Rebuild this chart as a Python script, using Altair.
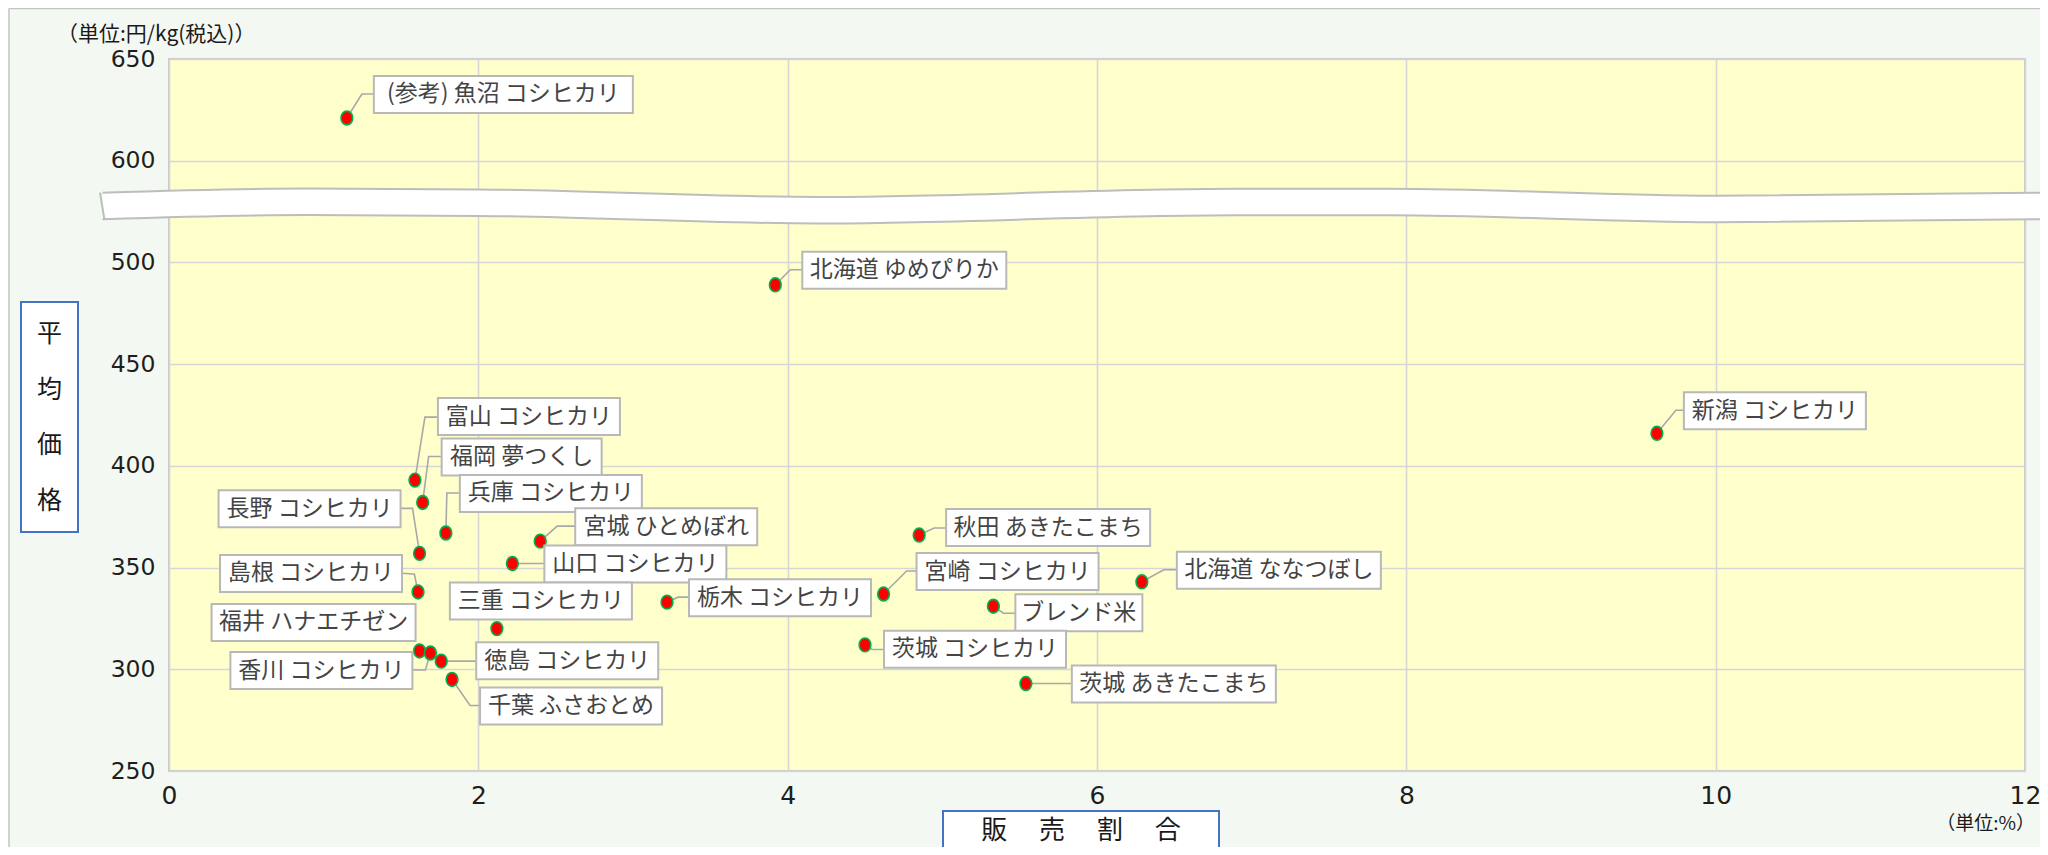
import altair as alt
import pandas as pd

# ---------------- data ----------------
NAMES = ["(参考) 魚沼 コシヒカリ", "北海道 ゆめぴりか", "新潟 コシヒカリ", "富山 コシヒカリ", "福岡 夢つくし",
         "兵庫 コシヒカリ", "長野 コシヒカリ", "宮城 ひとめぼれ", "山口 コシヒカリ", "島根 コシヒカリ",
         "三重 コシヒカリ", "栃木 コシヒカリ", "福井 ハナエチゼン", "香川 コシヒカリ", "徳島 コシヒカリ",
         "千葉 ふさおとめ", "秋田 あきたこまち", "宮崎 コシヒカリ", "北海道 ななつぼし", "ブレンド米",
         "茨城 コシヒカリ", "茨城 あきたこまち"]
SHARE = [1.15, 3.92, 9.62, 1.59, 1.64, 1.79, 1.62, 2.40, 2.22, 1.61, 2.12, 3.22,
         1.62, 1.69, 1.76, 1.83, 4.85, 4.62, 6.29, 5.33, 4.50, 5.54]
PRICE = [621, 489, 416, 393, 382, 367, 357, 363, 352, 338, 320, 333,
         309, 308, 304, 295, 366, 337, 343, 331, 312, 293]
X_TICKS = [0, 2, 4, 6, 8, 10, 12]
Y_TICKS = [250, 300, 350, 400, 450, 500, 600, 650]
BREAK_LOW, BREAK_HIGH = 500, 600          # axis break between 500 and 600
Y_UNIT = "（単位:円/kg(税込)）"
X_UNIT = "（単位:%）"
Y_TITLE = "平\n均\n価\n格"
X_TITLE = "販　 売　 割　 合"

# ---------------- layout (pixels) ----------------
W, H = 1856, 712
PAD = {"left": 161, "top": 51, "right": 15, "bottom": 76}
GAP = BREAK_HIGH - BREAK_LOW - 50
def yb(v):  # value on the broken axis
    return v if v <= BREAK_LOW else v - GAP
Y_DOMAIN = [250, yb(650)]
PXX = 12 / W
PXY = (Y_DOMAIN[1] - Y_DOMAIN[0]) / H

# label box left/top offset from the point (px) and leader bend points (px)
BOX_OFF = [(27, -42), (27, -33), (27, -41), (23, -82), (19, -64), (14, -58), (-201, -63),
           (35, -33), (32, -18), (-198, -37), (-47, -46), (22, -23), (-208, -47), (-200, -1),
           (35, -19), (28, 8), (27, -26), (33, -41), (35, -30), (22, -12), (19, -14), (46, -18)]
LEADER = [[(15, -24), (27, -24)], [(15, -15), (27, -15)], [(19, -23), (27, -23)],
          [(10, -63), (23, -63)], [(6, -46), (19, -46)], [(1, -40), (14, -40)],
          [(-7, -45), (-19, -45)], [(17, -15), (35, -15)], [(32, 0)],
          [(-3.6, -17.7), (-15.6, -18.7)], [], [(11, -5), (22, -5)], [],
          [(-5, 17), (-18, 17)], [(35, 0)], [(18, 26), (28, 26)], [(15, -7), (27, -7)],
          [(23, -23), (33, -23)], [(22, -12), (35, -12)], [(10, 7), (22, 7)],
          [(7, 4.6), (19, 4.6)], [(46, 0)]]
FS_LABEL = 23
EM_BOX = 22
BOX_H = 37

def text_w(s):
    return sum(0.5 if ord(c) < 128 else 1.0 for c in s) * EM_BOX + 17

pts = pd.DataFrame({"name": NAMES, "x": SHARE, "price": PRICE})
pts["y"] = [yb(v) for v in PRICE]

boxes = []
leaders = []
for n, x, v, (bx, by), lead in zip(NAMES, SHARE, PRICE, BOX_OFF, LEADER):
    y = yb(v)
    w = text_w(n)
    x0 = x + bx * PXX
    x1 = x0 + w * PXX
    y0 = y - by * PXY
    y1 = y - (by + BOX_H) * PXY
    boxes.append({"name": n, "x0": x0, "x1": x1, "y0": y0, "y1": y1,
                  "tx": (x0 + x1) / 2, "ty": (y0 + y1) / 2})
    if lead:
        leaders.append({"name": n, "k": 0, "lx": x, "ly": y})
        for k, (dx, dy) in enumerate(lead, start=1):
            leaders.append({"name": n, "k": k, "lx": x + dx * PXX, "ly": y - dy * PXY})
boxes = pd.DataFrame(boxes)
leaders = pd.DataFrame(leaders)

# wavy break band (data units on the broken axis)
BAND_X = [-0.43, 0.9, 2.0, 4.2, 6.9, 7.9, 10.0, 12.2]
BAND_TOP = [534.3, 536.3, 535.9, 532.2, 536.2, 536.2, 532.8, 534.3]
band = pd.DataFrame({"bx": BAND_X, "top": BAND_TOP})
band["bot"] = band["top"] - 26.5 * PXY
band_left = pd.DataFrame({"bx": [-0.446, -0.418], "by": [BAND_TOP[0], BAND_TOP[0] - 26.5 * PXY]})

# ---------------- encodings ----------------
xaxis = alt.Axis(values=X_TICKS, title=None, labelFont="DejaVu Sans", labelFontSize=25,
                 labelColor="#1e1e1e", labelPadding=12, ticks=False, domain=False,
                 gridColor="#D6D6D6", gridWidth=1.6, labelFlush=False)
yaxis = alt.Axis(values=[yb(v) for v in Y_TICKS], title=None, labelFont="DejaVu Sans",
                 labelFontSize=23.5, labelColor="#1e1e1e", labelPadding=14, ticks=False,
                 domain=False, gridColor="#D6D6D6", gridWidth=1.6, labelFlush=False,
                 labelExpr=f"datum.value > {BREAK_LOW} ? datum.value + {GAP} : datum.value")
xs = alt.Scale(domain=[0, 12], nice=False, zero=False)
ys = alt.Scale(domain=Y_DOMAIN, nice=False, zero=False)

def X(f):
    return alt.X(f, type="quantitative", scale=xs, axis=xaxis)
def Y(f):
    return alt.Y(f, type="quantitative", scale=ys, axis=yaxis)

ELLIPSE = "M0,-1 A0.85,1 0 1,1 0,1 A0.85,1 0 1,1 0,-1 Z"

point_layer = alt.Chart(pts).mark_point(
    shape=ELLIPSE, filled=True, fill="#FF0000", stroke="#00B050", strokeWidth=1.6,
    size=190, opacity=1).encode(x=X("x"), y=Y("y"))

leader_layer = alt.Chart(leaders).mark_line(color="#A8A8A8", strokeWidth=1.6).encode(
    x=X("lx"), y=Y("ly"), detail="name:N", order="k:Q")

box_layer = alt.Chart(boxes).mark_rect(fill="white", stroke="#B8B8B8", strokeWidth=2).encode(
    x=X("x0"), x2="x1", y=Y("y0"), y2="y1")

text_layer = alt.Chart(boxes).mark_text(
    font="Noto Sans CJK JP", fontSize=FS_LABEL, color="#444444", align="center",
    baseline="middle").encode(x=X("tx"), y=Y("ty"), text="name:N")

band_area = alt.Chart(band).mark_area(interpolate="monotone", fill="white", opacity=1).encode(
    x=X("bx"), y=Y("top"), y2="bot")
band_top = alt.Chart(band).mark_line(interpolate="monotone", color="#BDBDBD", strokeWidth=2).encode(
    x=X("bx"), y=Y("top"))
band_bot = alt.Chart(band).mark_line(interpolate="monotone", color="#BDBDBD", strokeWidth=2).encode(
    x=X("bx"), y=Y("bot"))
band_edge = alt.Chart(band_left).mark_line(color="#BDBDBD", strokeWidth=2).encode(
    x=X("bx"), y=Y("by"))

one = pd.DataFrame({"d": [0]})
frame_left = alt.Chart(one).mark_rule(color="#C4C4C4", strokeWidth=1.5).encode(
    x=alt.value(-160), y=alt.value(-50.5), y2=alt.value(H + PAD["bottom"]))
frame_top = alt.Chart(one).mark_rule(color="#C4C4C4", strokeWidth=1.5).encode(
    x=alt.value(-160), x2=alt.value(W + PAD["right"]), y=alt.value(-50.5))

ytitle_box = alt.Chart(one).mark_rect(fill="white", stroke="#4472C4", strokeWidth=2).encode(
    x=alt.value(-148), x2=alt.value(-91), y=alt.value(243), y2=alt.value(473))
ytitle_text = alt.Chart(one).mark_text(
    text=Y_TITLE, lineBreak="\n", lineHeight=55.5, font="Noto Sans CJK JP", fontSize=25,
    color="#1a1a1a", align="center", baseline="middle").encode(
    x=alt.value(-119.5), y=alt.value(275))
xtitle_box = alt.Chart(one).mark_rect(fill="white", stroke="#4472C4", strokeWidth=2).encode(
    x=alt.value(774), x2=alt.value(1050), y=alt.value(752), y2=alt.value(790))
xtitle_text = alt.Chart(one).mark_text(
    text=X_TITLE, font="Noto Sans CJK JP", fontSize=26, color="#1a1a1a", align="center",
    baseline="middle").encode(x=alt.value(912), y=alt.value(772))
yunit_text = alt.Chart(one).mark_text(
    text=Y_UNIT, font="Noto Sans CJK JP", fontSize=21, color="#1a1a1a", align="left",
    baseline="middle").encode(x=alt.value(-112), y=alt.value(-24))
xunit_text = alt.Chart(one).mark_text(
    text=X_UNIT, font="Noto Sans CJK JP", fontSize=19, color="#1a1a1a", align="right",
    baseline="middle").encode(x=alt.value(1866), y=alt.value(765))

chart = alt.layer(
    band_area, band_top, band_bot, band_edge,
    leader_layer, point_layer, box_layer, text_layer,
    frame_left, frame_top, ytitle_box, ytitle_text, xtitle_box, xtitle_text,
    yunit_text, xunit_text,
).properties(
    width=W, height=H, padding=PAD,
    autosize=alt.AutoSizeParams(type="none"),
    background="#F4F8F2",
).configure_view(fill="#FFFFCC", stroke="#C8C8C8", strokeWidth=2)

chart.save("out.html", embed_options={"renderer": "svg", "actions": False})
